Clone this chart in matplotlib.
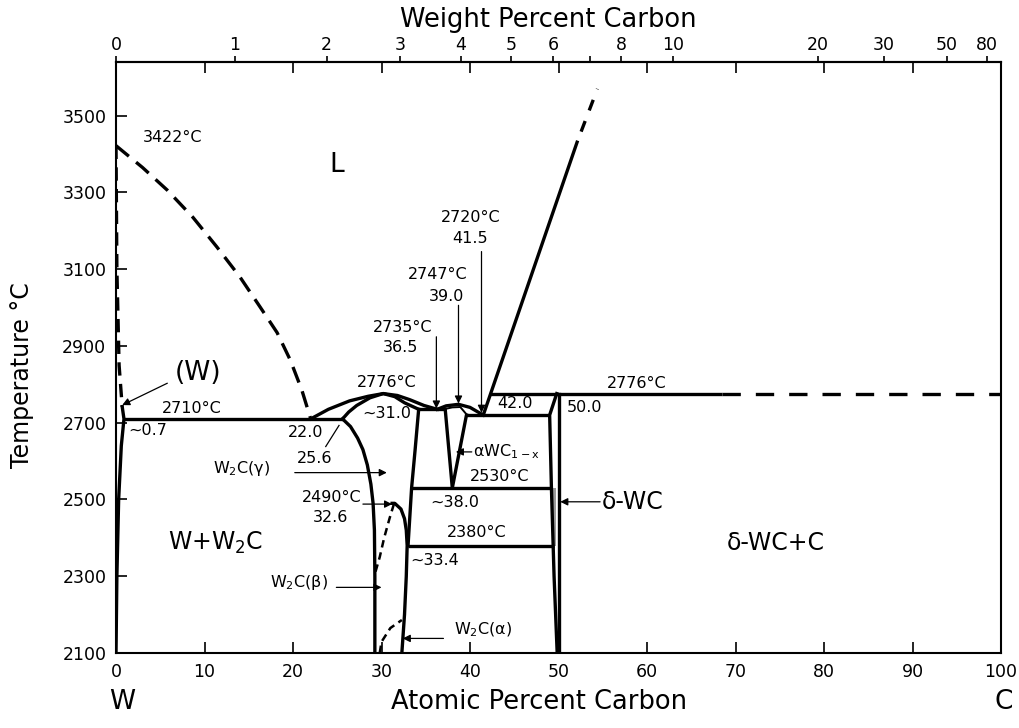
import numpy as np
import matplotlib.pyplot as plt

# W-C phase diagram, atomic % C vs temperature (degC)

# liquidus, W side (dashed)
liq_w_x = [0, 3.0, 5.8, 8.7, 11.4, 14.0, 16.3, 18.2, 19.7, 21.0, 22.0]
liq_w_T = [3422, 3365, 3306, 3235, 3158, 3080, 3001, 2935, 2863, 2785, 2710]
# (W) solidus (dashed) and solvus (solid)
sol_w_x = [0, 0.1, 0.35, 0.7]
sol_w_T = [3422, 3100, 2850, 2742]
solv_w_x = [0.7, 0.9, 0.6, 0.3, 0.1, 0.0]
solv_w_T = [2742, 2710, 2640, 2500, 2300, 2100]
# W2C dome
w2c_liq_x = [22.0, 24.0, 26.4, 28.5, 30.2, 31.8, 33.2, 34.8, 36.3]
w2c_liq_T = [2710, 2735, 2757, 2769, 2776, 2771, 2760, 2745, 2735]
w2c_sol_x = [25.6, 26.3, 27.2, 28.7, 30.2, 31.5, 32.6, 34.2]
w2c_sol_T = [2710, 2728, 2745, 2765, 2776, 2768, 2752, 2735]
w2c_left_x = [25.6, 26.5, 27.3, 27.9, 28.4, 28.8, 29.05, 29.2, 29.25, 29.25]
w2c_left_T = [2710, 2690, 2660, 2630, 2590, 2540, 2490, 2420, 2300, 2100]
w2c_right_x = [34.2, 33.8, 33.4, 33.0]
w2c_right_T = [2735, 2630, 2530, 2380]
# W2C ordering dome (2490 degC, 32.6)
dome_x = [31.2, 31.5, 32.2, 32.6, 32.8, 32.9, 32.8, 32.6, 32.3]
dome_T = [2490, 2490, 2475, 2450, 2420, 2380, 2300, 2200, 2100]
dome_dash_x = [31.4, 30.9, 30.3, 29.8, 29.3]
dome_dash_T = [2488, 2450, 2400, 2350, 2310]
alpha_dash_x = [29.8, 30.0, 31.0, 32.3]
alpha_dash_T = [2100, 2129, 2165, 2186]
# cubic WC(1-x)
cub_top_x = [36.3, 37.3, 38.7, 40.0, 41.5]
cub_top_T = [2735, 2744, 2748, 2740, 2720]
cub_low_x = [37.0, 38.0, 38.9, 39.6]
cub_low_T = [2735, 2740, 2741, 2722]
v_x = [37.2, 38.0, 39.6]
v_T = [2735, 2530, 2720]
# WC liquidus
liq_c_x = [41.5, 52.1]
liq_c_T = [2720, 3431]
liq_c_dash_x = [52.1, 54.4]
liq_c_dash_T = [3431, 3570]
# delta-WC boundaries
wc_left_x = [49.8, 49.0, 49.2, 49.5, 49.85]
wc_left_T = [2776, 2720, 2530, 2300, 2100]
wc_right_x = [50.0, 50.0]
wc_right_T = [2776, 2100]
# invariant lines: (x0, x1, T)
iso_x0 = [0.9, 34.2, 39.6, 33.4, 33.0, 42.3]
iso_x1 = [25.6, 37.2, 49.0, 49.2, 49.5, 68.5]
iso_T = [2710, 2735, 2720, 2530, 2380, 2776]
peri_dash_x = [68.5, 100]
peri_dash_T = [2776, 2776]

temp_ticks = [2100, 2300, 2500, 2700, 2900, 3100, 3300, 3500]
at_ticks = [0, 10, 20, 30, 40, 50, 60, 70, 80, 90, 100]
wt_ticks = [0, 1, 2, 3, 4, 5, 6, 7, 8, 10, 20, 30, 50, 80]
wt_labels = ['0', '1', '2', '3', '4', '5', '6', '', '8', '10', '20', '30', '50', '80']

M_C, M_W = 12.011, 183.84


def wt2at(w):
    w = np.clip(np.asarray(w, dtype=float), 0, 100)
    return 100 * (w / M_C) / (w / M_C + (100 - w) / M_W)


def at2wt(a):
    a = np.clip(np.asarray(a, dtype=float), 0, 100)
    return 100 * a * M_C / (a * M_C + (100 - a) * M_W)


fig = plt.figure(figsize=(10.19, 7.28), dpi=100)
ax = fig.add_axes([116 / 1019, 75 / 728, 885 / 1019, 591 / 728])
ax.set_xlim(0, 100)
ax.set_ylim(2100, 3640)

lw = 2.4
k = 'black'
ax.plot(liq_w_x, liq_w_T, color=k, lw=lw, dashes=(5, 2.8))
ax.plot(sol_w_x, sol_w_T, color=k, lw=lw, dashes=(4, 2.5))
ax.plot(solv_w_x, solv_w_T, color=k, lw=lw)
for xs, ts in [(w2c_liq_x, w2c_liq_T), (w2c_sol_x, w2c_sol_T),
               (w2c_left_x, w2c_left_T), (w2c_right_x, w2c_right_T),
               (dome_x, dome_T), (cub_top_x, cub_top_T), (v_x, v_T),
               (liq_c_x, liq_c_T), (wc_left_x, wc_left_T), (wc_right_x, wc_right_T)]:
    ax.plot(xs, ts, color=k, lw=lw, solid_joinstyle='round')
ax.plot(cub_low_x, cub_low_T, color=k, lw=1.4)
ax.plot(dome_dash_x, dome_dash_T, color=k, lw=1.8, dashes=(3, 2))
ax.plot(alpha_dash_x, alpha_dash_T, color=k, lw=1.8, dashes=(3, 2))
ax.plot(liq_c_dash_x, liq_c_dash_T, color=k, lw=lw, linestyle=(3.4, (3.4, 3.4)))
ax.hlines(iso_T, iso_x0, iso_x1, color=k, lw=lw)
ax.plot(peri_dash_x, peri_dash_T, color=k, lw=lw, dashes=(5.5, 4.5))
# narrow grey band inside delta-WC
ax.fill_betweenx([2380, 2530], 49.35, 49.75, color='0.6', lw=0)

ax.set_xticks(at_ticks)
ax.set_yticks(temp_ticks)
ax.tick_params(axis='both', direction='in', length=8, width=1.2, labelsize=12.5, pad=7)
ax.tick_params(axis='x', top=True, labeltop=False)
for s in ax.spines.values():
    s.set_linewidth(1.5)

sec = ax.secondary_xaxis('top', functions=(at2wt, wt2at))
sec.set_xticks(wt_ticks)
sec.set_xticklabels(wt_labels)
sec.tick_params(direction='out', length=4.5, width=1.2, labelsize=12.5, pad=1)
sec.spines['top'].set_linewidth(1.5)

fs = 11.5
txt = [
    ('3422°C', 3.0, 3444, 'left'),
    ('2720°C', 40.1, 3236, 'center'), ('41.5', 40.0, 3181, 'center'),
    ('2747°C', 36.4, 3085, 'center'), ('39.0', 37.3, 3028, 'center'),
    ('2735°C', 32.4, 2949, 'center'), ('36.5', 32.1, 2895, 'center'),
    ('2776°C', 30.6, 2806, 'center'), ('2776°C', 58.8, 2803, 'center'),
    ('2710°C', 8.6, 2738, 'center'), ('~31.0', 30.6, 2725, 'center'),
    ('42.0', 45.1, 2751, 'center'), ('50.0', 52.9, 2741, 'center'),
    ('~0.7', 3.6, 2681, 'center'), ('22.0', 21.4, 2674, 'center'),
    ('25.6', 22.5, 2608, 'center'), ('αWC$_{\\mathrm{1-x}}$', 40.3, 2624, 'left'),
    ('W$_2$C(γ)', 14.2, 2582, 'center'), ('2530°C', 43.3, 2559, 'center'),
    ('2490°C', 24.4, 2506, 'center'), ('32.6', 24.2, 2454, 'center'),
    ('~38.0', 38.3, 2491, 'center'), ('2380°C', 40.8, 2413, 'center'),
    ('~33.4', 36.0, 2342, 'center'), ('W$_2$C(β)', 20.7, 2285, 'center'),
    ('W$_2$C(α)', 41.5, 2160, 'center'),
]
for s, x, t, ha in txt:
    ax.text(x, t, s, fontsize=fs, ha=ha, va='center')

big = [('L', 25.0, 3371, 'center', 19), ('(W)', 9.3, 2830, 'center', 19),
       ('δ-WC', 54.9, 2494, 'left', 17), ('W+W$_2$C', 11.2, 2387, 'center', 17),
       ('δ-WC+C', 74.5, 2387, 'center', 17)]
for s, x, t, ha, sz in big:
    ax.text(x, t, s, fontsize=sz, ha=ha, va='center')

ap = dict(arrowstyle='-|>', lw=0.9, color=k, mutation_scale=11, shrinkA=0, shrinkB=0)
arrows = [
    ((5.8, 2803), (0.7, 2746)),
    ((20.2, 2570), (30.6, 2570)),
    ((27.9, 2488), (31.2, 2488)),
    ((24.9, 2271), (30.0, 2271)),
    ((37.0, 2138), (32.4, 2138)),
    ((40.2, 2624), (38.4, 2624)),
    ((54.7, 2494), (50.2, 2494)),
    ((36.2, 2924), (36.2, 2737)),
    ((38.7, 3006), (38.7, 2750)),
    ((41.3, 3146), (41.3, 2726)),
]
for a, b in arrows:
    ax.annotate('', xy=b, xytext=a, arrowprops=ap)
ax.plot([23.7, 25.2], [2638, 2693], color=k, lw=0.9)

fig.text(548 / 1019, 1 - 20 / 728, 'Weight Percent Carbon', fontsize=18.5, ha='center', va='center')
fig.text(539 / 1019, 1 - 702 / 728, 'Atomic Percent Carbon', fontsize=18.5, ha='center', va='center')
fig.text(122 / 1019, 1 - 702 / 728, 'W', fontsize=19, ha='center', va='center')
fig.text(1004 / 1019, 1 - 702 / 728, 'C', fontsize=19, ha='center', va='center')
fig.text(22 / 1019, 1 - 375 / 728, 'Temperature °C', fontsize=17, ha='center', va='center',
         rotation=90)

fig.savefig('out.png', dpi=100)
